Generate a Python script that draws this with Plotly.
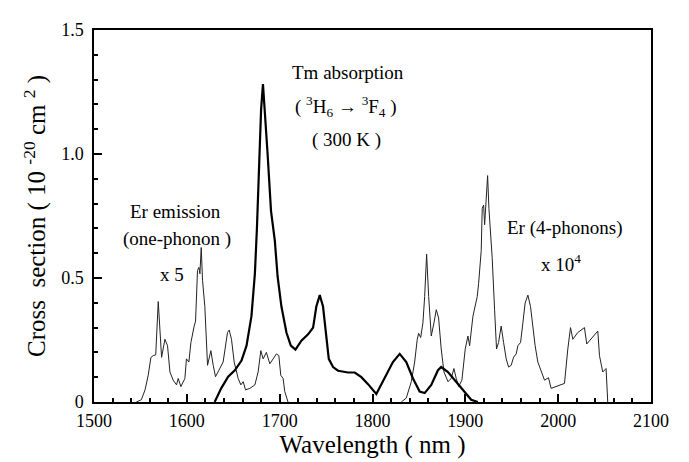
import plotly.graph_objects as go

# Er emission (one-phonon) x5
er1_wl = [1545.6, 1551, 1555, 1558.4, 1561.3, 1563.8, 1566.5, 1569.2, 1572.8, 1576.4, 1579.2, 1581.8,
          1585.3, 1588.9, 1590.7, 1593.6, 1597.9, 1599.6, 1602.2, 1604.4, 1607.9, 1609.4, 1611.5,
          1613, 1614.1, 1615.5, 1616.9, 1619.4, 1622.3, 1625.9, 1628.4, 1630.9, 1634.5, 1639.1,
          1643.8, 1645.6, 1648.1, 1651, 1655.3, 1658.2, 1660.7, 1663.2, 1667.9, 1673.3, 1676.8,
          1679.7, 1682.2, 1685.7, 1689.4, 1693.7, 1696.5, 1699.1, 1701.2, 1703.7, 1705.5, 1709]
er1_cs = [0, 0.009, 0.049, 0.108, 0.18, 0.187, 0.19, 0.405, 0.18, 0.253, 0.227, 0.121,
          0.088, 0.069, 0.095, 0.062, 0.095, 0.174, 0.161, 0.24, 0.306, 0.326, 0.53,
          0.543, 0.517, 0.623, 0.491, 0.385, 0.148, 0.207, 0.148, 0.102, 0.128, 0.161,
          0.28, 0.29, 0.253, 0.161, 0.095, 0.069, 0.082, 0.049, 0.055, 0.069, 0.121,
          0.207, 0.174, 0.2, 0.154, 0.18, 0.194, 0.187, 0.108, 0.095, 0.042, 0]

# Tm absorption 3H6 -> 3F4 (300 K)
tm_wl = [1630, 1637, 1644.5, 1651.7, 1658.9, 1664.3, 1669.6, 1673.3, 1675.5, 1678, 1680, 1682,
         1684, 1687, 1690.7, 1694.8, 1697.8, 1701.9, 1707.3, 1712, 1717, 1723.4, 1730.6, 1736,
         1739.5, 1743.2, 1746.7, 1750.3, 1752.9, 1757.5, 1762.9, 1773.7, 1780.9, 1788, 1795.2,
         1804.1, 1813.1, 1822, 1829.3, 1836.4, 1843.6, 1850.8, 1856.2, 1863.3, 1870.5, 1874,
         1881.3, 1888.5, 1897.4, 1906.3, 1913.5]
tm_cs = [0, 0.055, 0.102, 0.128, 0.167, 0.227, 0.346, 0.517, 0.70, 0.95, 1.18, 1.282,
         1.18, 1.0, 0.77, 0.65, 0.505, 0.385, 0.28, 0.227, 0.211, 0.247, 0.273, 0.30,
         0.385, 0.431, 0.385, 0.253, 0.174, 0.141, 0.126, 0.119, 0.119, 0.10, 0.072,
         0.032, 0.095, 0.161, 0.194, 0.161, 0.095, 0.042, 0.036, 0.069, 0.128, 0.141,
         0.121, 0.088, 0.049, 0.009, 0]

# Er (4-phonons) x1e4
er4_wl = [1831, 1836.4, 1841.8, 1845.4, 1848.2, 1849.7, 1851.9, 1854.3, 1856.2, 1858.3, 1860.5,
          1863.3, 1866.2, 1868.7, 1871.2, 1874, 1877, 1881.3, 1884.8, 1887.7, 1890.2, 1892.8,
          1896.3, 1899.9, 1902.8, 1904.6, 1908.2, 1910.6, 1912.8, 1914.3, 1917.1, 1918.2,
          1919.7, 1920.8, 1922.5, 1924, 1925.4, 1927.2, 1928.9, 1931.5, 1933.6, 1935.8,
          1938.6, 1941.2, 1944, 1946.6, 1949.4, 1952, 1954.8, 1956.6, 1959.5, 1962, 1964.4,
          1967.4, 1970.2, 1972.7, 1975.2, 1978.1, 1981.7, 1985.3, 1989.6, 1992.4, 2006.8,
          2008.5, 2010.4, 2013.3, 2015.8, 2021.1, 2028.3, 2030.8, 2042.7, 2044.5, 2048,
          2051.6, 2053.4]
er4_cs = [0, 0.016, 0.082, 0.161, 0.253, 0.277, 0.26, 0.319, 0.425, 0.596, 0.425,
          0.266, 0.319, 0.372, 0.339, 0.214, 0.121, 0.082, 0.095, 0.135, 0.095, 0.062,
          0.088, 0.214, 0.266, 0.227, 0.346, 0.385, 0.425, 0.478, 0.61, 0.781,
          0.794, 0.715, 0.807, 0.913, 0.781, 0.689, 0.583, 0.372, 0.214, 0.24,
          0.306, 0.24, 0.174, 0.141, 0.148, 0.181, 0.194, 0.227, 0.24, 0.319, 0.399,
          0.431, 0.385, 0.306, 0.227, 0.161, 0.128, 0.088, 0.098, 0.055, 0.075,
          0.148, 0.214, 0.3, 0.253, 0.28, 0.3, 0.234, 0.286, 0.187, 0.121,
          0.135, 0]

x_ticks = [1500, 1600, 1700, 1800, 1900, 2000, 2100]
y_ticks = [0, 0.5, 1.0, 1.5]
y_ticktext = ["0", "0.5", "1.0", "1.5"]

FONT = "'Times New Roman', 'Liberation Serif', 'DejaVu Serif', serif"

fig = go.Figure()
fig.add_trace(go.Scatter(x=er1_wl, y=er1_cs, mode="lines",
                         line=dict(color="#222222", width=1), showlegend=False))
fig.add_trace(go.Scatter(x=er4_wl, y=er4_cs, mode="lines",
                         line=dict(color="#222222", width=1), showlegend=False))
fig.add_trace(go.Scatter(x=tm_wl, y=tm_cs, mode="lines",
                         line=dict(color="black", width=2.2), showlegend=False))

annots = [
    (1773.6, 1.33, "Tm absorption"),
    (1771.5, 1.19, "( <sup>3</sup>H<sub>6</sub> \u2192 <sup>3</sup>F<sub>4</sub> )"),
    (1771.5, 1.057, "( 300 K )"),
    (1587.5, 0.768, "Er emission"),
    (1589.6, 0.657, "(one-phonon )"),
    (1584.2, 0.515, "x 5"),
    (2007.1, 0.70, "Er (4-phonons)"),
    (2002.8, 0.562, "x 10<sup>4</sup>"),
]
for ax_, ay_, t in annots:
    fig.add_annotation(x=ax_, y=ay_, text=t, showarrow=False,
                       font=dict(family=FONT, size=19, color="black"),
                       xanchor="center", yanchor="middle")

fig.update_xaxes(range=[1500, 2100], tickvals=x_ticks, ticks="inside", ticklen=8,
                 tickwidth=1.5, tickcolor="black", showline=True, linecolor="black",
                 linewidth=1.5, mirror=True, showgrid=False, zeroline=False,
                 ticklabelstandoff=2,
                 tickfont=dict(family=FONT, size=18, color="black"),
                 minor=dict(dtick=20, ticks="inside", ticklen=4, tickcolor="black", showgrid=False),
                 title=dict(text="Wavelength ( nm )", font=dict(family=FONT, size=25, color="black"),
                            standoff=4))
fig.update_yaxes(range=[0, 1.5], tickvals=y_ticks, ticktext=y_ticktext, ticks="inside",
                 ticklen=8, tickwidth=1.5, tickcolor="black", showline=True, linecolor="black",
                 linewidth=1.5, mirror=True, showgrid=False, zeroline=False,
                 ticklabelstandoff=5,
                 tickfont=dict(family=FONT, size=18, color="black"),
                 minor=dict(dtick=0.1, ticks="inside", ticklen=4, tickcolor="black", showgrid=False),
                 title=dict(text="Cross  section ( 10 <sup>-20</sup> cm <sup>2</sup> )",
                            font=dict(family=FONT, size=25, color="black"), standoff=8))

fig.update_layout(width=689, height=462, margin=dict(l=86, r=46, t=15, b=68),
                  font=dict(family=FONT, color="black"),
                  plot_bgcolor="white", paper_bgcolor="white")

fig.write_html("out.html")
